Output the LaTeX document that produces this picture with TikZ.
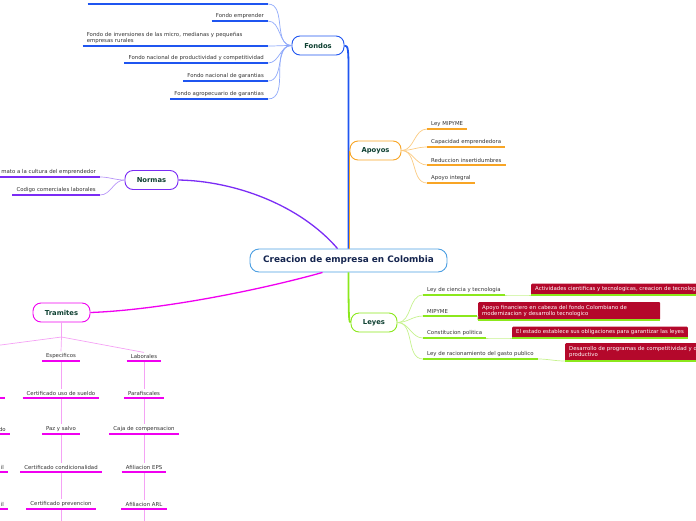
\documentclass[tikz,border=0pt]{standalone}
\usepackage{fontspec}
\setmainfont{DejaVu Sans}
\usetikzlibrary{calc}

\definecolor{fondosblue}{HTML}{1F55F0}
\definecolor{fondoslight}{HTML}{8FA9FA}
\definecolor{apoyosorange}{HTML}{F8A525}
\definecolor{apoyoslight}{HTML}{FBCB82}
\definecolor{normaspurple}{HTML}{7B2CF5}
\definecolor{normaslight}{HTML}{B896F8}
\definecolor{tramitesmag}{HTML}{F000F0}
\definecolor{tramiteslight}{HTML}{F5A2F5}
\definecolor{leyesgreen}{HTML}{8BE81C}
\definecolor{leyeslight}{HTML}{C6F28E}
\definecolor{centreblue}{HTML}{4C9FE2}
\definecolor{topictext}{HTML}{0E4031}
\definecolor{centretext}{HTML}{15254F}
\definecolor{leaftext}{HTML}{333333}
\definecolor{leyred}{HTML}{B4082B}

\begin{document}
\begin{tikzpicture}[x=1pt,y=-1pt,
	topic/.style={draw,fill=white,rounded corners=8pt,line width=0.9pt,minimum height=19pt,inner xsep=10pt,font=\fontsize{6.8}{8}\selectfont\bfseries,text=topictext},
	leaf/.style={font=\fontsize{5.4}{6.4}\selectfont,text=leaftext,inner xsep=4pt,inner ysep=2pt},
	redbox/.style={fill=leyred,text=white,rounded corners=1pt,font=\fontsize{5.4}{6.4}\selectfont,inner xsep=4pt,inner ysep=3pt,anchor=south west},
	under/.style={draw=#1,line width=1.8pt},
	twig/.style={line width=0.7pt}]
	\useasboundingbox (0,0) rectangle (696,520);

	% centre and main topics
	\draw (348.5,260.5) node (centre) [draw=centreblue,fill=white,rounded corners=9pt,line width=0.9pt,minimum width=197pt,minimum height=23pt,font=\fontsize{8.9}{10}\selectfont\bfseries,text=centretext] {Creacion de empresa en Colombia};
	\draw (318,45.5) node (fondos) [topic,draw=fondosblue,minimum width=52pt] {Fondos};
	\draw (375.5,150.5) node (apoyos) [topic,draw=apoyosorange,minimum width=51pt] {Apoyos};
	\draw (151.5,180) node (normas) [topic,draw=normaspurple,minimum width=53pt] {Normas};
	\draw (61.5,312.5) node (tramites) [topic,draw=tramitesmag,minimum width=57pt] {Tramites};
	\draw (374,322.5) node (leyes) [topic,draw=leyesgreen,minimum width=46pt] {Leyes};

	\draw[fondosblue,line width=1.8pt] (fondos.east) .. controls +(4,0) and (348.5,50) .. (348.5,75) -- (centre.north);
	\draw[apoyosorange,line width=0.9pt] (apoyos.west) -- (apoyos.west |- centre.north);
	\draw[normaspurple,line width=1.3pt] (normas.east) .. controls (235,181) and (300,205) .. ($(centre.north)+(-11,0)$);
	\draw[tramitesmag,line width=1.3pt] (tramites.east) .. controls (160,310) and (260,290) .. ($(centre.south)+(-26,0)$);
	\draw[leyesgreen,line width=1.8pt] (centre.south) .. controls (348.5,318) and (349,322.5) .. (leyes.west);

	% Fondos
	\draw (268,4) node (f1) [leaf,anchor=south east,minimum width=180pt] {};
	\draw (268,21) node (f2) [leaf,anchor=south east] {Fondo emprender};
	\draw (268,46) node (f3) [leaf,anchor=south east,text width=177pt,align=left] {Fondo de inversiones de las micro, medianas y pequeñas\\empresas rurales};
	\draw (268,63) node (f4) [leaf,anchor=south east] {Fondo nacional de productividad y competitividad};
	\draw (268,81) node (f5) [leaf,anchor=south east] {Fondo nacional de garantias};
	\draw (268,99) node (f6) [leaf,anchor=south east] {Fondo agropecuario de garantias};
	\foreach \n in {f1,f2,f3,f4,f5,f6} {
		\draw[fondoslight,twig] (fondos.west) to[out=180,in=0] (\n.south east);
		\path[under=fondosblue] (\n.south west) -- (\n.south east);
	}

	% Apoyos
	\draw (427,129) node (a1) [leaf,anchor=south west] {Ley MIPYME};
	\draw (427,147) node (a2) [leaf,anchor=south west] {Capacidad emprendedora};
	\draw (427,165) node (a3) [leaf,anchor=south west] {Reduccion insertidumbres};
	\draw (427,183) node (a4) [leaf,anchor=south west] {Apoyo integral};
	\foreach \n in {a1,a2,a3,a4} {
		\draw[apoyoslight,twig] (apoyos.east) to[out=0,in=180] (\n.south west);
		\path[under=apoyosorange] (\n.south west) -- (\n.south east);
	}

	% Normas
	\draw (100,177) node (n1) [leaf,anchor=south east] {mato a la cultura del emprendedor};
	\draw (100,195) node (n2) [leaf,anchor=south east] {Codigo comerciales laborales};
	\foreach \n in {n1,n2} {
		\draw[normaslight,twig] (normas.west) to[out=180,in=0] (\n.south east);
		\path[under=normaspurple] (\n.south west) -- (\n.south east);
	}

	% Tramites
	\coordinate (fan) at (61.5,337);
	\coordinate (lefthead) at (-22,348);
	\draw (61,361) node (e1) [leaf,anchor=south] {Especificos};
	\draw (61,398) node (e2) [leaf,anchor=south] {Certificado uso de sueldo};
	\draw (61,434) node (e3) [leaf,anchor=south] {Paz y salvo};
	\draw (61,472) node (e4) [leaf,anchor=south] {Certificado condicionalidad};
	\draw (61,509) node (e5) [leaf,anchor=south] {Certificado prevencion};
	\draw (144,361) node (l1) [leaf,anchor=south] {Laborales};
	\draw (144,398) node (l2) [leaf,anchor=south] {Parafiscales};
	\draw (144,434) node (l3) [leaf,anchor=south] {Caja de compensacion};
	\draw (144,472) node (l4) [leaf,anchor=south] {Afiliacion EPS};
	\draw (144,509) node (l5) [leaf,anchor=south] {Afiliacion ARL};
	\draw (5,398) node (x1) [leaf,anchor=south east,minimum width=30pt] {};
	\draw (10,434) node (x2) [leaf,anchor=south east] {do};
	\draw (8,472) node (x3) [leaf,anchor=south east] {il};
	\draw (8,509) node (x4) [leaf,anchor=south east] {il};
	\coordinate (e6) at (61,525);
	\coordinate (l6) at (144,525);

	\draw[tramiteslight,twig] (tramites.south) -- (fan);
	\draw[tramiteslight,twig] (fan) -- (lefthead);
	\draw[tramiteslight,twig] (fan) -- (e1.north);
	\draw[tramiteslight,twig] (fan) -- (l1.north);
	\foreach \a/\b in {e1/e2,e2/e3,e3/e4,e4/e5,e5/e6,l1/l2,l2/l3,l3/l4,l4/l5,l5/l6}
		\draw[tramiteslight,twig] (\a.south) -- (\b.north);
	\foreach \n in {e1,e2,e3,e4,e5,l1,l2,l3,l4,l5,x1,x2,x3,x4}
		\path[under=tramitesmag] (\n.south west) -- (\n.south east);

	% Leyes
	\draw (423,295) node (y1) [leaf,anchor=south west] {Ley de ciencia y tecnologia};
	\draw (423,316) node (y2) [leaf,anchor=south west,text width=46pt,align=left] {MIPYME};
	\draw (423,338) node (y3) [leaf,anchor=south west] {Constitucion politica};
	\draw (423,359) node (y4) [leaf,anchor=south west] {Ley de racionamiento del gasto publico};
	\draw (531,295) node (r1) [redbox] {Actividades cientificas y tecnologicas, creacion de tecnologia};
	\draw (478,320) node (r2) [redbox,text width=174pt,align=left] {Apoyo financiero en cabeza del fondo Colombiano de\\modernizacion y desarrollo tecnologico};
	\draw (512,338) node (r3) [redbox] {El estado establece sus obligaciones para garantizar las leyes};
	\draw (565,361) node (r4) [redbox,text width=174pt,align=left] {Desarrollo de programas de competitividad y desarrollo\\productivo};
	\foreach \n/\r in {y1/r1,y2/r2,y3/r3,y4/r4} {
		\draw[leyeslight,twig] (leyes.east) to[out=0,in=180] (\n.south west);
		\draw[leyeslight,twig] (\n.south east) to[out=0,in=180] (\r.south west);
		\path[under=leyesgreen] (\n.south west) -- (\n.south east);
		\path[under=leyesgreen] (\r.south west) -- (\r.south east);
	}
\end{tikzpicture}
\end{document}
